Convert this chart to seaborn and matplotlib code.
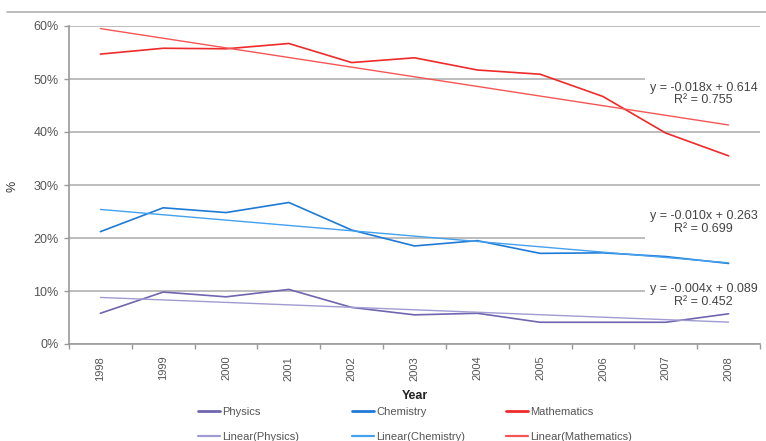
import numpy as np
import pandas as pd
import seaborn as sns
import matplotlib
matplotlib.use("Agg")
import matplotlib.pyplot as plt
from matplotlib.lines import Line2D
from matplotlib.ticker import PercentFormatter, FixedLocator

# Data (share of students, fraction)
years = ['1998', '1999', '2000', '2001', '2002', '2003', '2004', '2005', '2006', '2007', '2008']
physics = [0.058, 0.098, 0.089, 0.103, 0.069, 0.055, 0.058, 0.041, 0.041, 0.041, 0.057]
chemistry = [0.212, 0.257, 0.248, 0.267, 0.215, 0.185, 0.195, 0.171, 0.172, 0.165, 0.152]
mathematics = [0.547, 0.558, 0.557, 0.567, 0.531, 0.540, 0.517, 0.509, 0.467, 0.398, 0.355]

subjects = ['Physics', 'Chemistry', 'Mathematics']
series = [physics, chemistry, mathematics]
line_colors = ['#6f66ae', '#1f7ad6', '#ee2a2a']
trend_colors = ['#a09bd2', '#45a0ee', '#f55555']
eq_labels = ['y = -0.004x + 0.089\nR\u00b2 = 0.452',
             'y = -0.010x + 0.263\nR\u00b2 = 0.699',
             'y = -0.018x + 0.614\nR\u00b2 = 0.755']
eq_y = [0.0915, 0.2292, 0.4715]

sns.set_theme(style='white')
plt.rcParams['font.family'] = ['Liberation Sans', 'DejaVu Sans']

fig = plt.figure(figsize=(7.66, 4.41), dpi=100)
ax = fig.add_axes([69 / 766, 1 - 344 / 441, 691 / 766, 318 / 441])

pos = np.arange(len(years))
handles = []
for name, vals, c, tc in zip(subjects, series, line_colors, trend_colors):
    df = pd.DataFrame({'pos': pos, 'val': vals})
    sns.lineplot(data=df, x='pos', y='val', color=c, lw=1.2, ax=ax, zorder=3)
    # linear trend (Excel style), fitted on x = 1..11
    k, b = np.polyfit(pos + 1, vals, 1)
    tdf = pd.DataFrame({'pos': pos, 'val': k * (pos + 1) + b})
    sns.lineplot(data=tdf, x='pos', y='val', color=tc, lw=1.0, ax=ax, zorder=3)
    handles.append((Line2D([], [], color=c, lw=2), Line2D([], [], color=tc, lw=1.6)))

ax.set_xlim(-0.5, len(years) - 0.5)
ax.set_ylim(0, 0.6)
ax.yaxis.set_major_formatter(PercentFormatter(1.0, decimals=0))
ax.set_yticks(np.arange(0, 0.61, 0.1))
ax.set_xticks(pos)
ax.set_xticklabels(years, rotation=90, fontsize=8, color='#555555')
ax.xaxis.set_minor_locator(FixedLocator(np.arange(-0.5, len(years), 1.0)))
ax.tick_params(axis='x', which='major', length=0, pad=8.5)
ax.tick_params(axis='x', which='minor', bottom=True, length=3.6, width=1, color='#999999')
ax.tick_params(axis='y', left=True, length=3.6, width=1, color='#999999', pad=4,
               labelsize=9, labelcolor='#555555')

ax.grid(axis='y', color='#b8b8b8', lw=1.3, zorder=0)
for s in ['top', 'right']:
    ax.spines[s].set_visible(False)
for s in ['left', 'bottom']:
    ax.spines[s].set_color('#999999')
    ax.spines[s].set_linewidth(1.2)

ax.set_xlabel('Year', fontsize=9, fontweight='bold', color='#222222')
ax.xaxis.set_label_coords(0.5007, -0.146)
ax.set_ylabel('%', fontsize=9, color='#333333')
ax.yaxis.set_label_coords(-0.0738, 0.497)

for lab, y in zip(eq_labels, eq_y):
    ax.text(9.6, y, lab, ha='center', va='center', multialignment='center',
            fontsize=9, color='#444444', zorder=4, linespacing=1.05,
            bbox=dict(facecolor='white', edgecolor='none', pad=3.2))

# legend: one column per subject
for i, (name, (h1, h2)) in enumerate(zip(subjects, handles)):
    fig.legend([h1, h2], [name, 'Linear(%s)' % name], loc='upper left',
               bbox_to_anchor=((198 + 154 * i) / 766, 1 - 407 / 441),
               frameon=False, fontsize=8, handlelength=2.0, handletextpad=0.15,
               labelspacing=1.35, borderaxespad=0, borderpad=0, labelcolor='#555555')

fig.add_artist(Line2D([7 / 766, 1], [1 - 12 / 441, 1 - 12 / 441], color='#b8b8b8', lw=1.3))

fig.savefig('out.png', dpi=100)
